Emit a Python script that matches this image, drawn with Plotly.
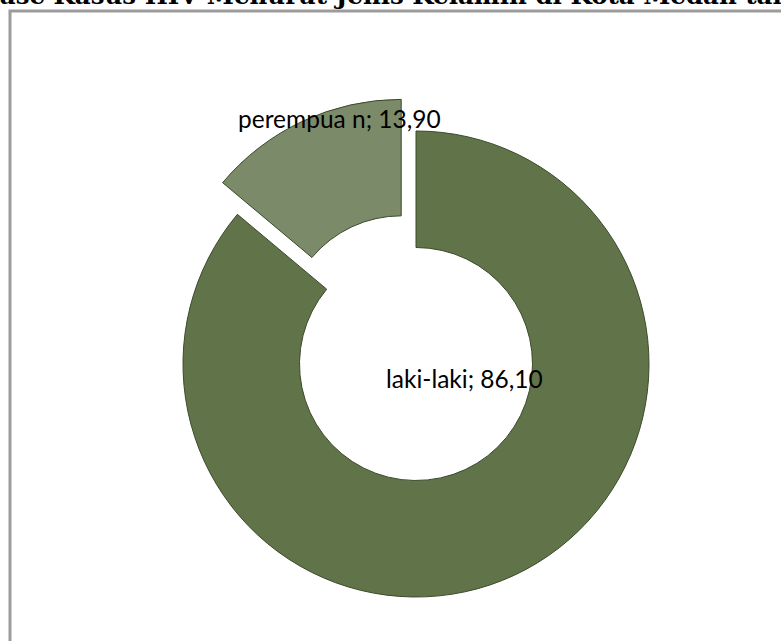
import plotly.graph_objects as go

# Data: share of HIV cases by sex (percent)
categories = ["laki-laki", "perempuan"]
label_names = ["laki-laki", "perempua n"]
values = [86.10, 13.90]
slice_colors = ["#617449", "#7b8b69"]
pulls = [0, 0.15]

title_text = "Persentase Kasus HIV Menurut Jenis Kelamin di Kota Medan tahun"

W, H = 781, 641


def px_x(x):
    return x / W


def px_y(y):
    return 1 - y / H


# Pie box: centre and outer radius in pixels, enlarged for the pulled slice
cx, cy, r = 416, 364, 233
half_box = r * (1 + max(pulls))

fig = go.Figure()
fig.add_trace(go.Pie(
    labels=categories,
    values=values,
    sort=False,
    direction="clockwise",
    rotation=0,
    hole=0.5,
    pull=pulls,
    textinfo="none",
    hoverinfo="label+value",
    marker=dict(colors=slice_colors, line=dict(color="#3b4a2b", width=1)),
    domain=dict(x=[px_x(cx - half_box), px_x(cx + half_box)],
                y=[px_y(cy + half_box), px_y(cy - half_box)]),
    showlegend=False,
))


def fmt(v):
    return f"{v:.2f}".replace(".", ",")


# Data labels "name; value"
label_pos = [(464, 378), (339, 119)]
for name, v, (lx, ly) in zip(label_names, values, label_pos):
    fig.add_annotation(
        text=f"{name}; {fmt(v)}",
        x=px_x(lx), y=px_y(ly), xref="paper", yref="paper",
        xanchor="center", yanchor="middle", showarrow=False,
        font=dict(family="Lato, Carlito, Calibri, sans-serif", size=24.5, color="#000000"),
    )

# Chart title (runs past the page edges)
fig.add_annotation(
    text=f"<b>{title_text}</b>",
    x=px_x(-107), y=px_y(12), xref="paper", yref="paper",
    xanchor="left", yanchor="bottom", showarrow=False,
    font=dict(family="DejaVu Serif, serif", size=24.5, color="#000000"),
)

# Chart-area frame
fig.add_shape(
    type="rect", xref="paper", yref="paper",
    x0=px_x(10), x1=px_x(W + 30), y0=px_y(H + 30), y1=px_y(11),
    line=dict(color="#9c9c9c", width=3), fillcolor="rgba(0,0,0,0)",
    layer="below",
)

fig.update_layout(
    width=W, height=H,
    margin=dict(l=0, r=0, t=0, b=0),
    paper_bgcolor="#ffffff",
    plot_bgcolor="#ffffff",
)

fig.write_html("out.html")
